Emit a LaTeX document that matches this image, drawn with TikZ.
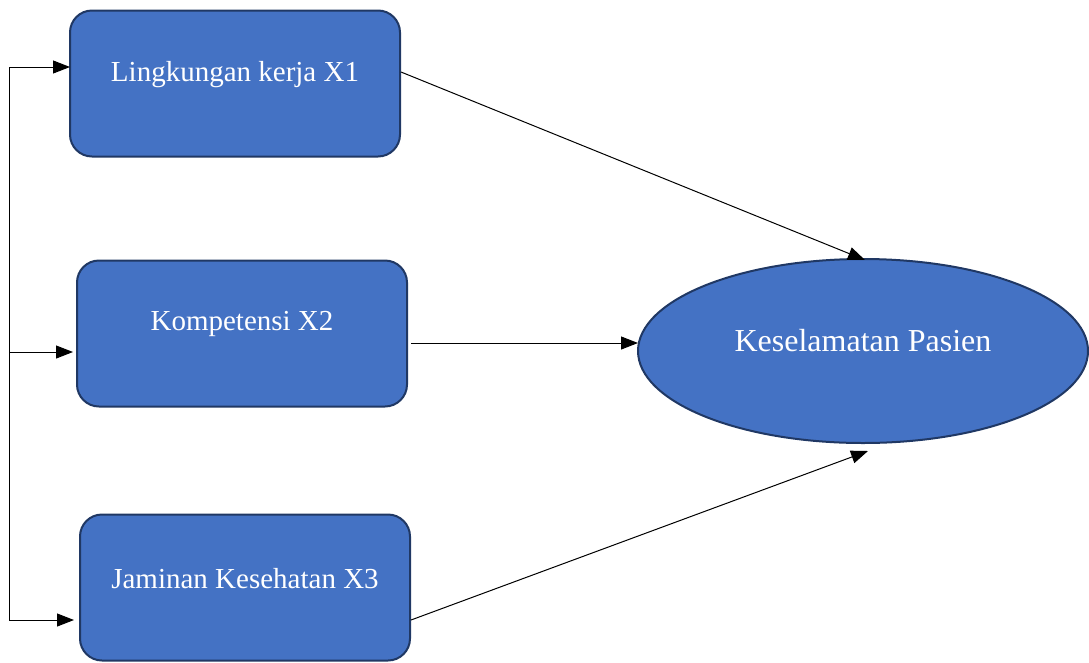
\documentclass[tikz,border=0pt]{standalone}
\usepackage{fontspec}
\setmainfont{Liberation Serif}
\usetikzlibrary{arrows.meta,shapes.geometric}
\definecolor{fillblue}{HTML}{4472C4}
\definecolor{edgeblue}{HTML}{203864}
\tikzset{
  box/.style={draw=edgeblue, line width=2pt, fill=fillblue, rounded corners=22pt, minimum width=330pt, minimum height=146pt, inner sep=0pt},
  boxtext/.style={text=white, font=\fontsize{29}{34}\selectfont},
  oval/.style={draw=edgeblue, line width=2pt, fill=fillblue, ellipse, minimum width=450pt, minimum height=184pt, inner sep=0pt},
  ovaltext/.style={text=white, font=\fontsize{32}{38}\selectfont},
  conn/.style={line width=1pt, -{Triangle[length=17pt,width=13pt]}},
  plain/.style={line width=1pt}
}
\begin{document}
\begin{tikzpicture}[x=1pt,y=-1pt]
\useasboundingbox (0,0) rectangle (1089,662);
% boxes
\node[box, label={[boxtext, yshift=9pt]center:Lingkungan kerja X1}] (x1) at (235,83.5) {};
\node[box, label={[boxtext, yshift=10pt]center:Kompetensi X2}] (x2) at (242,333.5) {};
\node[box, label={[boxtext, yshift=9pt]center:Jaminan Kesehatan X3}] (x3) at (245,587.5) {};
% ellipse
\node[oval, label={[ovaltext, yshift=10pt]center:Keselamatan Pasien}] (y) at (863,351) {};
% arrow end points
\coordinate (b1) at (70,67);
\coordinate (b2) at (73,352);
\coordinate (b3) at (74,620);
% left feeder
\coordinate (top) at (9,67);
\coordinate (mid) at (9,352);
\coordinate (bot) at (9,620);
\draw[plain] (top) -- (bot);
\draw[conn] (top) -- (b1);
\draw[conn] (mid) -- (b2);
\draw[conn] (bot) -- (b3);
% right arrows
\coordinate (s1) at (401,72);
\coordinate (e1) at (865,260);
\coordinate (s2) at (411,343);
\coordinate (e2) at (638,343);
\coordinate (s3) at (411,620);
\coordinate (e3) at (868,451);
\draw[conn] (s1) -- (e1);
\draw[conn] (s2) -- (e2);
\draw[conn] (s3) -- (e3);
\end{tikzpicture}
\end{document}
